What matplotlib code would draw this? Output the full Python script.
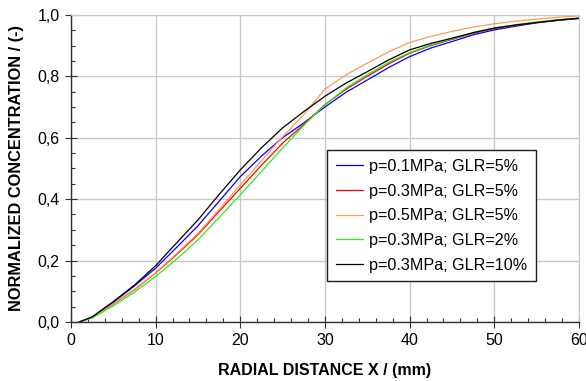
import matplotlib
matplotlib.use("Agg")
import matplotlib.pyplot as plt
from matplotlib.ticker import MultipleLocator, FuncFormatter

plt.rcParams['font.family'] = ['Liberation Sans', 'DejaVu Sans']

# radial distance (mm)
x = [1, 2.5, 5, 7.5, 10, 12.5, 15, 17.5, 20, 22.5, 25, 27.5, 30,
     32.5, 35, 37.5, 40, 42.5, 45, 47.5, 50, 52.5, 55, 57.5, 60]

# normalized concentration curves
c_01_5 = [0, 0.016, 0.064, 0.117, 0.175, 0.243, 0.313, 0.393, 0.473, 0.540, 0.600, 0.648, 0.700,
          0.748, 0.788, 0.828, 0.864, 0.892, 0.913, 0.935, 0.951, 0.963, 0.974, 0.982, 0.988]
c_03_5 = [0, 0.014, 0.058, 0.105, 0.159, 0.220, 0.284, 0.360, 0.435, 0.510, 0.582, 0.643, 0.708,
          0.758, 0.800, 0.840, 0.875, 0.900, 0.920, 0.940, 0.955, 0.966, 0.975, 0.983, 0.989]
c_05_5 = [0, 0.014, 0.058, 0.106, 0.160, 0.223, 0.288, 0.366, 0.446, 0.525, 0.603, 0.675, 0.758,
          0.805, 0.843, 0.879, 0.910, 0.930, 0.946, 0.960, 0.971, 0.979, 0.986, 0.992, 0.997]
c_03_2 = [0, 0.013, 0.052, 0.097, 0.148, 0.205, 0.267, 0.340, 0.414, 0.490, 0.566, 0.640, 0.707,
          0.762, 0.805, 0.845, 0.877, 0.902, 0.922, 0.942, 0.957, 0.968, 0.977, 0.984, 0.990]
c_03_10 = [0, 0.016, 0.066, 0.120, 0.183, 0.258, 0.332, 0.415, 0.495, 0.567, 0.632, 0.685, 0.735,
           0.778, 0.815, 0.853, 0.886, 0.907, 0.924, 0.942, 0.957, 0.967, 0.975, 0.983, 0.989]

series = [
    (c_01_5, 'p=0.1MPa; GLR=5%', '#0000ff'),
    (c_03_5, 'p=0.3MPa; GLR=5%', '#ff0000'),
    (c_05_5, 'p=0.5MPa; GLR=5%', '#ff9955'),
    (c_03_2, 'p=0.3MPa; GLR=2%', '#22ee22'),
    (c_03_10, 'p=0.3MPa; GLR=10%', '#000000'),
]

fig = plt.figure(figsize=(5.86, 3.81), dpi=100)
ax = fig.add_axes([0.121, 0.155, 0.867, 0.806])

for y, lab, col in series:
    ax.plot(x, y, color=col, lw=0.9, label=lab)

ax.set_xlim(0, 60)
ax.set_ylim(0, 1.0)
ax.xaxis.set_major_locator(MultipleLocator(10))
ax.xaxis.set_minor_locator(MultipleLocator(2))
ax.yaxis.set_major_locator(MultipleLocator(0.2))
ax.yaxis.set_minor_locator(MultipleLocator(0.05))
ax.yaxis.set_major_formatter(FuncFormatter(lambda v, p: f"{v:.1f}".replace('.', ',')))
ax.xaxis.set_major_formatter(FuncFormatter(lambda v, p: f"{v:.0f}"))

ax.grid(True, which='major', color='#c8c8c8', lw=1.0)
ax.set_axisbelow(True)
for s in ['top', 'right']:
    ax.spines[s].set_color('#c8c8c8')
for s in ['left', 'bottom']:
    ax.spines[s].set_color('#303030')
    ax.spines[s].set_linewidth(1.0)

ax.tick_params(which='major', direction='inout', length=8, width=0.8,
               color='#303030', labelsize=11.5, pad=4)
ax.tick_params(which='minor', direction='in', length=3, width=0.8, color='#303030')
ax.tick_params(top=False, right=False, which='both')

ax.set_xlabel('RADIAL DISTANCE X / (mm)', fontsize=11.5, fontweight='bold', labelpad=11)
ax.set_ylabel('NORMALIZED CONCENTRATION / (-)', fontsize=11.8, fontweight='bold', labelpad=10)

leg = ax.legend(loc='upper left', bbox_to_anchor=(0.504, 0.560), borderaxespad=0,
                fontsize=11.6, frameon=True, fancybox=False, framealpha=1,
                edgecolor='#202020', handlelength=1.7, handletextpad=0.35,
                labelspacing=0.6, borderpad=0.55)
leg.get_frame().set_linewidth(1.0)

fig.savefig('out.png', dpi=100)
